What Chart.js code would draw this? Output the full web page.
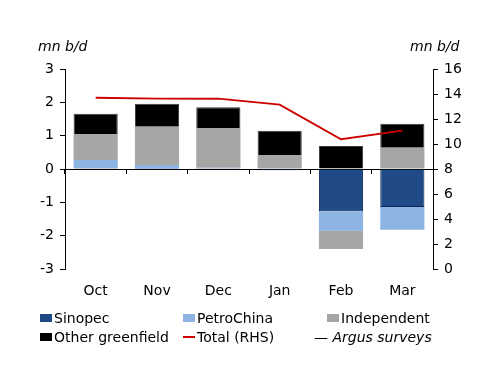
<!DOCTYPE html>
<html>
<head>
<meta charset="utf-8">
<script src="https://cdn.jsdelivr.net/npm/chart.js@4"></script>
<style>
    body { margin: 0; background: #fff; }
    #wrap { position: relative; width: 500px; height: 386px; font-family: "DejaVu Sans", sans-serif; color: #000; }
    canvas { position: absolute; left: 0; top: 0; }
    .unit { position: absolute; top: 38px; font-size: 14px; font-style: italic; }
    .leg { position: absolute; font-size: 14px; line-height: 16px; white-space: nowrap; }
    .box { display: inline-block; width: 12px; height: 8px; margin-right: 2px; vertical-align: 1px; }
    .ln { display: inline-block; width: 12px; height: 2px; margin-right: 2px; vertical-align: 4px; }
</style>
</head>
<body>
<div id="wrap">
    <canvas id="c" width="500" height="386"></canvas>
    <div class="unit" style="left:38px">mn b/d</div>
    <div class="unit" style="left:410px">mn b/d</div>
    <div class="leg" style="left:40px;top:310px"><span class="box" style="background:#1f4a85"></span>Sinopec</div>
    <div class="leg" style="left:183px;top:310px"><span class="box" style="background:#8db4e2"></span>PetroChina</div>
    <div class="leg" style="left:327px;top:310px"><span class="box" style="background:#a6a6a6"></span>Independent</div>
    <div class="leg" style="left:40px;top:329px"><span class="box" style="background:#000"></span>Other greenfield</div>
    <div class="leg" style="left:183px;top:329px"><span class="ln" style="background:#cc0000"></span>Total (RHS)</div>
    <div class="leg" style="left:314px;top:329px">&mdash; <i>Argus surveys</i></div>
</div>
<script>
// values, mn b/d
const months = ['Oct', 'Nov', 'Dec', 'Jan', 'Feb', 'Mar'];
const sinopec = [0.03, 0.01, 0.03, -0.04, -1.27, -1.14];
const petroChina = [0.24, 0.11, 0.01, 0, -0.58, -0.68];
const independent = [0.78, 1.15, 1.19, 0.42, -0.55, 0.64];
const otherGreenfield = [0.61, 0.69, 0.62, 0.73, 0.69, 0.72];
const totalRhs = [13.7, 13.63, 13.63, 13.15, 10.38, 11.07];

const leftTicks = [-3, 3, 1];
const rightTicks = [0, 16, 2];

const tickFont = { family: 'DejaVu Sans', size: 14 };

new Chart(document.getElementById('c'), {
    data: {
        labels: months,
        datasets: [
            { type: 'bar', label: 'Sinopec', data: sinopec, backgroundColor: '#1f4a85', borderColor: '#0b2a5a', borderWidth: 1, order: 1 },
            { type: 'bar', label: 'PetroChina', data: petroChina, backgroundColor: '#8db4e2', borderWidth: 0, order: 1 },
            { type: 'bar', label: 'Independent', data: independent, backgroundColor: '#a6a6a6', borderWidth: 0, order: 1 },
            { type: 'bar', label: 'Other greenfield', data: otherGreenfield, backgroundColor: '#000000', borderColor: '#3a3a3a', borderWidth: 1, order: 1 },
            { type: 'line', label: 'Total (RHS)', data: totalRhs, yAxisID: 'y2', borderColor: '#cc0000', borderWidth: 2, pointRadius: 0, tension: 0, order: 0 }
        ]
    },
    options: {
        responsive: false,
        animation: false,
        layout: { padding: { left: 20, right: 17, top: 69, bottom: 77 } },
        plugins: { legend: { display: false }, tooltip: { enabled: false } },
        datasets: { bar: { categoryPercentage: 1, barPercentage: 0.72 } },
        scales: {
            x: {
                stacked: true,
                grid: { display: false },
                border: { display: false },
                ticks: { color: '#000', font: tickFont, padding: 6 },
                afterFit: s => { s.height = 40; }
            },
            x0: {
                position: { y: 0 },
                offset: true,
                grid: { offset: true, drawOnChartArea: false, tickLength: 4, color: '#000' },
                border: { color: '#000' },
                ticks: { display: false }
            },
            y: {
                stacked: true,
                position: 'left',
                min: leftTicks[0], max: leftTicks[1],
                grid: { drawOnChartArea: false, tickLength: 5, color: '#000' },
                border: { color: '#000' },
                ticks: { stepSize: leftTicks[2], color: '#000', font: tickFont, padding: 6 },
                afterFit: s => { s.width = 45; }
            },
            y2: {
                position: 'right',
                min: rightTicks[0], max: rightTicks[1],
                grid: { drawOnChartArea: false, tickLength: 5, color: '#000' },
                border: { color: '#000' },
                ticks: { stepSize: rightTicks[2], color: '#000', font: tickFont, padding: 6 },
                afterFit: s => { s.width = 50; }
            }
        }
    }
});
</script>
</body>
</html>
